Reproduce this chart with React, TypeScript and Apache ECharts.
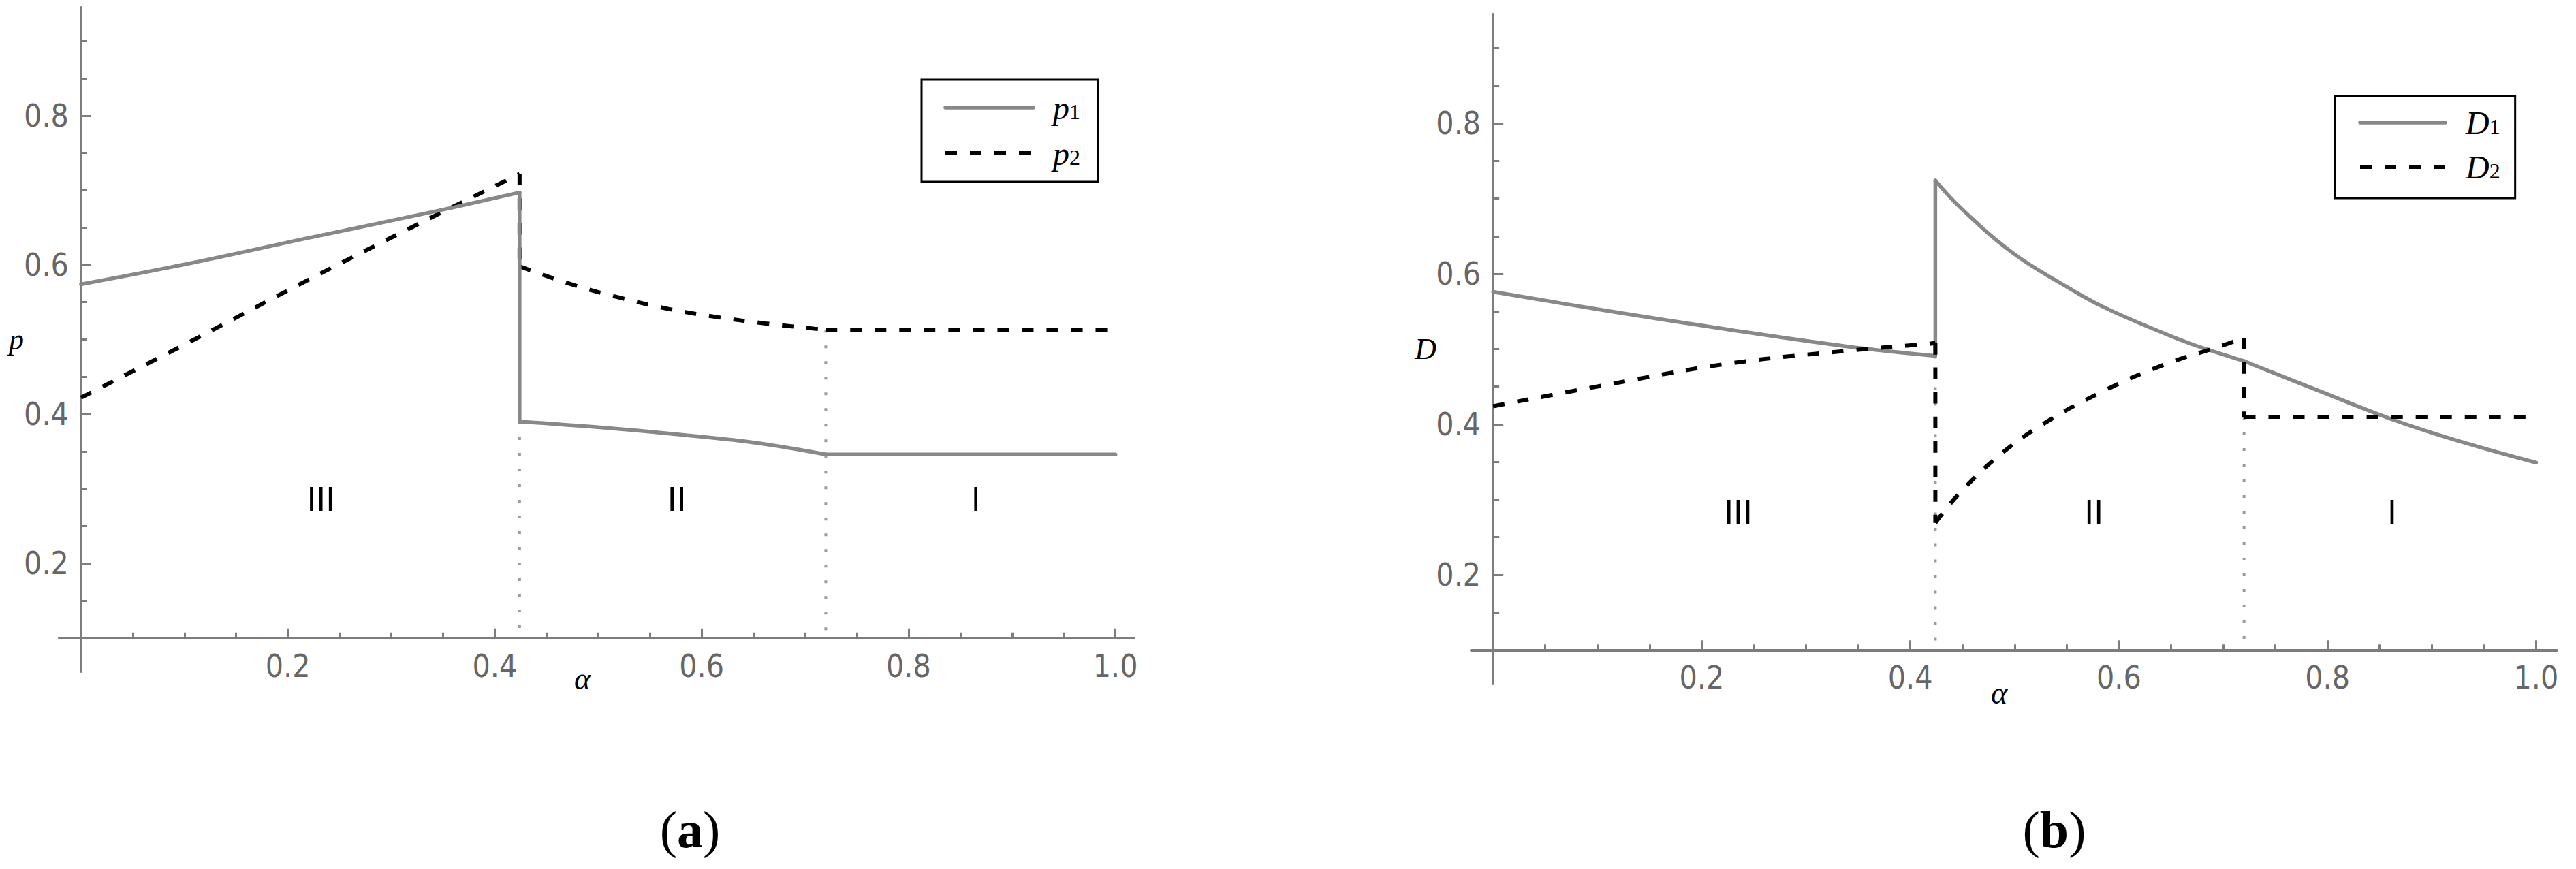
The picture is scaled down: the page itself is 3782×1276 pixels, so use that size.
import React, { useEffect, useRef } from "react";
import * as echarts from "echarts";

const W = 3782;
const H = 1276;

// ---------- shared tick values ----------
const xTickMajor = [0.2, 0.4, 0.6, 0.8, 1.0];
const xTickMinor = [0.05, 0.1, 0.15, 0.25, 0.3, 0.35, 0.45, 0.5, 0.55, 0.65, 0.7, 0.75, 0.85, 0.9, 0.95];
const yTickMajor = [0.2, 0.4, 0.6, 0.8];
const yTickMinor = [0.15, 0.25, 0.3, 0.35, 0.45, 0.5, 0.55, 0.65, 0.7, 0.75, 0.85, 0.9];
const regionNames = ["III", "II", "I"];

// ---------- panel (a): prices ----------
const p1RegionIII = [[0, 0.574], [0.105, 0.602], [0.223, 0.637], [0.34, 0.671], [0.424, 0.697]];
const p1JumpA1 = [[0.424, 0.697], [0.424, 0.39]];
const p1RegionII = [[0.424, 0.39], [0.504, 0.382], [0.568, 0.374], [0.65, 0.362], [0.72, 0.346]];
const p1RegionI = [[0.72, 0.346], [1.0, 0.346]];

const p2RegionIII = [[0, 0.422], [0.111, 0.501], [0.217, 0.578], [0.325, 0.654], [0.411, 0.713], [0.424, 0.722]];
const p2JumpA1 = [[0.424, 0.722], [0.424, 0.598]];
const p2RegionII = [[0.424, 0.598], [0.474, 0.574], [0.521, 0.556], [0.568, 0.541], [0.615, 0.53], [0.662, 0.5215], [0.709, 0.5145], [0.72, 0.513]];
const p2RegionI = [[0.72, 0.513], [1.0, 0.513]];

const boundaryA1a = [[0.424, 0.39], [0.424, 0.1]];
const boundaryA2a = [[0.72, 0.513], [0.72, 0.1]];
const regionXa = [0.232, 0.576, 0.865];
const regionYa = 0.286;

// ---------- panel (b): demands ----------
const D1RegionIII = [[0, 0.576], [0.109, 0.551], [0.225, 0.526], [0.342, 0.503], [0.424, 0.491]];
const D1JumpA1 = [[0.424, 0.491], [0.424, 0.724]];
const D1RegionII = [[0.424, 0.724], [0.448, 0.688], [0.498, 0.628], [0.546, 0.586], [0.585, 0.556], [0.643, 0.521], [0.673, 0.505], [0.72, 0.484]];
const D1RegionI = [[0.72, 0.484], [0.789, 0.446], [0.867, 0.404], [0.935, 0.374], [1.0, 0.349]];

const D2RegionIII = [[0, 0.424], [0.109, 0.4525], [0.225, 0.4805], [0.342, 0.498], [0.418, 0.507], [0.424, 0.508]];
const D2JumpA1 = [[0.424, 0.508], [0.424, 0.269]];
const D2RegionII = [[0.424, 0.269], [0.445, 0.305], [0.483, 0.356], [0.527, 0.4], [0.585, 0.444], [0.643, 0.479], [0.7, 0.505], [0.72, 0.515]];
const D2JumpA2 = [[0.72, 0.515], [0.72, 0.41]];
const D2RegionI = [[0.72, 0.41], [1.0, 0.41]];

const boundaryA1b = [[0.424, 0.491], [0.424, 0.1]];
const boundaryA2b = [[0.72, 0.41], [0.72, 0.1]];
const regionXb = [0.235, 0.576, 0.862];
const regionYb = 0.283;

// ---------- styles ----------
const FONT_TICK = "'DejaVu Sans Condensed', 'Liberation Sans Narrow', 'Liberation Sans', sans-serif";
const FONT_SERIF = "'Liberation Serif', 'DejaVu Serif', serif";
const FONT_SANS = "'Liberation Sans', Arial, sans-serif";
const AXIS_COLOR = "#7d7d7d";
const LABEL_COLOR = "#666666";
const SOLID_COLOR = "#888888";
const X_CROSS = 0.1; // value of the vertical axis where the horizontal axis sits

interface Panel {
  grid: { left: number; top: number; width: number; height: number };
  xMin: number; xMax: number; yMin: number; yMax: number;
  yName: string; yNameGap: number; yNamePad: number[];
  xNameGap: number; xNamePad: number[];
  solidName: string; dashedName: string;
  solid: number[][][]; dashed: number[][][]; bounds: number[][][];
  regionX: number[]; regionY: number;
  solidZ: number; dashedZ: number;
  legend: { left: number; top: number; itemWidth: number; itemGap: number; padding: number[]; textPad: number };
}

const panels: Panel[] = [
  {
    grid: { left: 87, top: 11, width: 1578, height: 975 },
    xMin: -0.021, xMax: 1.018, yMin: 0.055, yMax: 0.945,
    yName: "p", yNameGap: 84, yNamePad: [0, 0, 68, 0],
    xNameGap: 37, xNamePad: [0, 42, 0, 0],
    solidName: "p1", dashedName: "p2",
    solid: [p1RegionIII, p1JumpA1, p1RegionII, p1RegionI],
    dashed: [p2RegionIII, p2JumpA1, p2RegionII, p2RegionI],
    bounds: [boundaryA1a, boundaryA2a],
    regionX: regionXa, regionY: regionYa,
    solidZ: 4, dashedZ: 3,
    legend: { left: 1353, top: 117, itemWidth: 129, itemGap: 19, padding: [17, 26, 18, 32], textPad: 24 },
  },
  {
    grid: { left: 2160, top: 21, width: 1594, height: 983 },
    xMin: -0.021, xMax: 1.02, yMin: 0.055, yMax: 0.945,
    yName: "D", yNameGap: 83, yNamePad: [0, 0, 47, 0],
    xNameGap: 40, xNamePad: [0, 44, 0, 0],
    solidName: "D1", dashedName: "D2",
    solid: [D1RegionIII, D1JumpA1, D1RegionII, D1RegionI],
    dashed: [D2RegionIII, D2JumpA1, D2RegionII, D2JumpA2, D2RegionI],
    bounds: [boundaryA1b, boundaryA2b],
    regionX: regionXb, regionY: regionYb,
    solidZ: 3, dashedZ: 4,
    legend: { left: 3428, top: 141, itemWidth: 125, itemGap: 17, padding: [15, 22, 22, 34], textPad: 25 },
  },
];

function buildOption() {
  const grid: any[] = [];
  const xAxis: any[] = [];
  const yAxis: any[] = [];
  const series: any[] = [];
  const legend: any[] = [];

  panels.forEach((p, gi) => {
    grid.push({ ...p.grid, containLabel: false, outerBoundsMode: "none" });
    const xMain = xAxis.length;
    const yMain = yAxis.length;
    const yHelper = yMain + 1;

    // ECharts keeps on-zero axis labels/names at the grid edge; compensate so they sit next to the axis line.
    const gridBottom = p.grid.top + p.grid.height;
    const xAxisPix = p.grid.top + ((p.yMax - X_CROSS) / (p.yMax - p.yMin)) * p.grid.height;
    const xOff = gridBottom - xAxisPix;
    const yAxisPix = p.grid.left + ((0 - p.xMin) / (p.xMax - p.xMin)) * p.grid.width;
    const yOff = yAxisPix - p.grid.left;

    // main x axis (line, minor ticks, labels)
    xAxis.push({
      type: "value", gridIndex: gi, min: p.xMin, max: p.xMax, position: "bottom",
      axisLine: { show: true, onZero: true, onZeroAxisIndex: yHelper, lineStyle: { color: AXIS_COLOR, width: 4 } },
      axisTick: { show: true, inside: true, length: 8, customValues: xTickMinor, lineStyle: { color: AXIS_COLOR, width: 3 } },
      axisLabel: {
        show: true, customValues: xTickMajor, formatter: (v: number) => v.toFixed(1),
        margin: 18 - xOff, fontSize: 46, fontFamily: FONT_TICK, color: LABEL_COLOR, hideOverlap: false,
      },
      splitLine: { show: false },
      name: "α", nameLocation: "middle", nameGap: p.xNameGap - xOff, nameMoveOverlap: false,
      nameTextStyle: { fontFamily: FONT_SERIF, fontStyle: "italic", fontSize: 46, color: "#000", padding: p.xNamePad },
    });
    // overlay x axis (major ticks)
    xAxis.push({
      type: "value", gridIndex: gi, min: p.xMin, max: p.xMax, position: "bottom",
      axisLine: { show: false, onZero: true, onZeroAxisIndex: yHelper },
      axisTick: { show: true, inside: true, length: 14, customValues: xTickMajor, lineStyle: { color: AXIS_COLOR, width: 3 } },
      axisLabel: { show: false },
      splitLine: { show: false },
    });

    // main y axis
    yAxis.push({
      type: "value", gridIndex: gi, min: p.yMin, max: p.yMax, position: "left",
      axisLine: { show: true, onZero: true, onZeroAxisIndex: xMain, lineStyle: { color: AXIS_COLOR, width: 4 } },
      axisTick: { show: true, inside: true, length: 9, customValues: yTickMinor, lineStyle: { color: AXIS_COLOR, width: 3 } },
      axisLabel: {
        show: true, customValues: yTickMajor, formatter: (v: number) => v.toFixed(1),
        margin: 18 - yOff, fontSize: 46, fontFamily: FONT_TICK, color: LABEL_COLOR, hideOverlap: false,
      },
      splitLine: { show: false },
      name: p.yName, nameLocation: "middle", nameGap: p.yNameGap - yOff, nameRotate: 0, nameMoveOverlap: false,
      nameTextStyle: { fontFamily: FONT_SERIF, fontStyle: "italic", fontSize: 44, color: "#000", padding: p.yNamePad },
    });
    // helper y axis: its zero sits at the main axis' 0.1, where the x axis crosses
    yAxis.push({
      type: "value", gridIndex: gi, min: p.yMin - X_CROSS, max: p.yMax - X_CROSS, position: "right", show: false,
      axisLine: { onZero: false }, splitLine: { show: false },
    });
    // overlay y axis (major ticks)
    yAxis.push({
      type: "value", gridIndex: gi, min: p.yMin, max: p.yMax, position: "left",
      axisLine: { show: false, onZero: true, onZeroAxisIndex: xMain },
      axisTick: { show: true, inside: true, length: 15, customValues: yTickMajor, lineStyle: { color: AXIS_COLOR, width: 3 } },
      axisLabel: { show: false },
      splitLine: { show: false },
    });

    const common = {
      type: "line", xAxisIndex: xMain, yAxisIndex: yMain, symbol: "none", showSymbol: false,
      silent: true, smooth: 0.4, itemStyle: { color: "rgba(0,0,0,0)", opacity: 0 },
    };

    p.bounds.forEach((b) => {
      series.push({ ...common, name: "boundary" + gi, data: b, smooth: false, z: 1,
        lineStyle: { color: "#9a9a9a", width: 4, type: [4, 19] } });
    });
    p.solid.forEach((seg) => {
      series.push({ ...common, name: p.solidName, data: seg, z: p.solidZ,
        lineStyle: { color: SOLID_COLOR, width: 5.5, type: "solid", cap: "round", join: "round" } });
    });
    p.dashed.forEach((seg) => {
      series.push({ ...common, name: p.dashedName, data: seg, z: p.dashedZ,
        lineStyle: { color: "#000000", width: 6, type: [17, 19], cap: "butt" } });
    });
    series.push({
      type: "scatter", name: "regions" + gi, xAxisIndex: xMain, yAxisIndex: yMain, silent: true,
      symbol: "circle", symbolSize: 1, itemStyle: { color: "rgba(0,0,0,0)" }, z: 5,
      data: regionNames.map((n, i) => ({ name: n, value: [p.regionX[i], p.regionY] })),
      label: {
        show: true, position: "inside", formatter: "{b}", opacity: 1,
        fontFamily: FONT_SANS, fontSize: 50, color: "#000000",
      },
    });

    legend.push({
      data: [p.solidName, p.dashedName],
      orient: "vertical", left: p.legend.left, top: p.legend.top,
      itemWidth: p.legend.itemWidth, itemHeight: 24, itemGap: p.legend.itemGap,
      padding: p.legend.padding, borderColor: "#000", borderWidth: 3, borderRadius: 0,
      backgroundColor: "#fff", selectedMode: false,
      itemStyle: { opacity: 0, color: "rgba(0,0,0,0)", borderWidth: 0 },
      lineStyle: { width: "inherit" },
      formatter: (name: string) => `{i|${name.charAt(0)}}{s|${name.charAt(1)}}`,
      textStyle: {
        color: "#000",
        rich: {
          i: { fontFamily: FONT_SERIF, fontStyle: "italic", fontSize: 48, lineHeight: 44, color: "#000", padding: [0, 0, 0, p.legend.textPad] },
          s: { fontFamily: FONT_SERIF, fontSize: 32, lineHeight: 22, verticalAlign: "bottom", color: "#000" },
        },
      },
    });
  });

  const captionRich = {
    p: { fontFamily: FONT_SERIF, fontSize: 76, color: "#000" },
    b: { fontFamily: FONT_SERIF, fontSize: 76, fontWeight: "bold", color: "#000" },
  };

  return {
    animation: false,
    backgroundColor: "#ffffff",
    grid, xAxis, yAxis, series, legend,
    graphic: [
      { type: "text", x: 1013, y: 1218, silent: true, style: { text: "{p|(}{b|a}{p|)}", rich: captionRich, align: "center", verticalAlign: "middle" } },
      { type: "text", x: 3016, y: 1218, silent: true, style: { text: "{p|(}{b|b}{p|)}", rich: captionRich, align: "center", verticalAlign: "middle" } },
    ],
  };
}

export default function App() {
  const ref = useRef<HTMLDivElement>(null);
  useEffect(() => {
    if (!ref.current) return;
    const chart = echarts.init(ref.current, null, { renderer: "svg" });
    chart.setOption(buildOption() as any);
    return () => chart.dispose();
  }, []);
  return (
    <div
      ref={ref}
      style={{ position: "absolute", left: 0, top: 0, width: W, height: H, background: "#fff" }}
    />
  );
}
